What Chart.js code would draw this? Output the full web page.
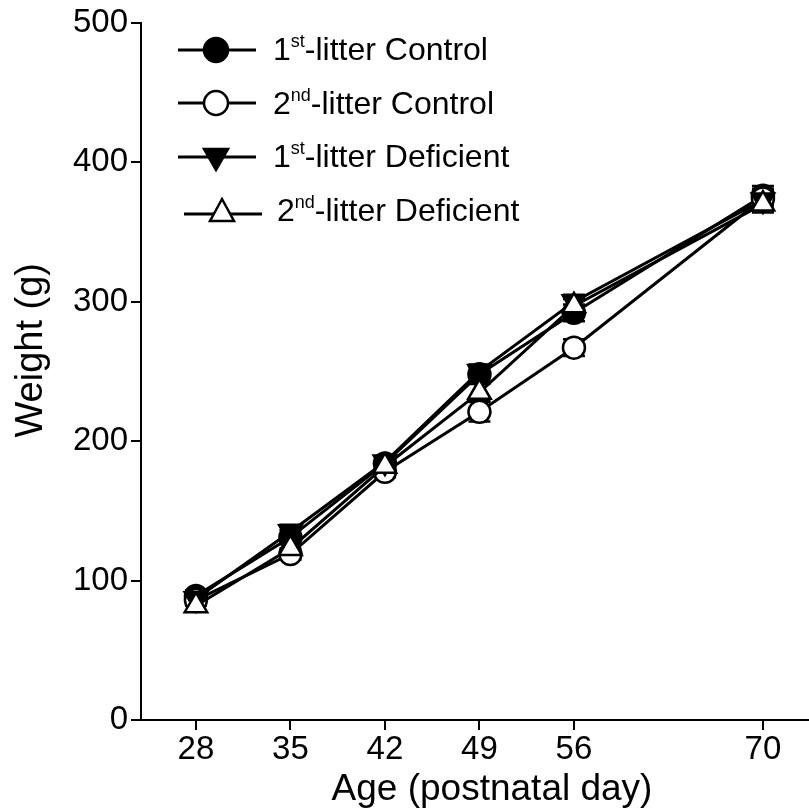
<!DOCTYPE html>
<html>
<head>
<meta charset="utf-8">
<script src="https://cdn.jsdelivr.net/npm/chart.js@4.4.0/dist/chart.umd.min.js"></script>
<style>
  html, body { margin: 0; padding: 0; background: #fff; overflow: hidden; }
  #wrap { position: relative; width: 809px; height: 812px; overflow: hidden; }
  #chart { position: absolute; left: 0; top: 0; }
  #legend { position: absolute; left: 176px; top: 23px; font-family: "Liberation Sans", Arial, sans-serif; font-size: 32px; color: #000; }
  .row { display: flex; align-items: center; height: 53.5px; }
  .row svg { margin-right: 15px; }
  .row sup { font-size: 18px; vertical-align: 13px; line-height: 0; }
  .row.last { margin-left: 6px; }
  .row.last svg { margin-right: 13px; }
</style>
</head>
<body>
<div id="wrap">
  <canvas id="chart" width="843" height="812"></canvas>
  <div id="legend"></div>
</div>
<script>
// Weight curves by litter and diet
const days = [28, 35, 42, 49, 56, 70];
const xTicks = [28, 35, 42, 49, 56, 70];
const yTicks = [0, 100, 200, 300, 400, 500];

const ctrl1 = [89, 131, 184, 248, 292, 376];
const ctrl2 = [86, 119, 178, 221, 267, 374];
const def1 = [87, 135, 185, 250, 300, 373];
const def2 = [82, 123, 182, 235, 297, 370];

const ctrl1Err = [4, 5, 4, 5, 6, 7];
const ctrl2Err = [4, 4, 4, 7, 6, 7];
const def1Err = [4, 5, 4, 5, 5, 6];
const def2Err = [4, 5, 4, 6, 5, 6];

const seriesNames = [
    ['1', 'st', '-litter Control'],
    ['2', 'nd', '-litter Control'],
    ['1', 'st', '-litter Deficient'],
    ['2', 'nd', '-litter Deficient']
];

function points(vals) {
    return days.map((d, i) => ({ x: d, y: vals[i] }));
}

const errorBars = {
    id: 'errorBars',
    beforeDatasetsDraw(chart) {
        const ctx = chart.ctx;
        const xs = chart.scales.x, ys = chart.scales.y;
        ctx.save();
        ctx.strokeStyle = '#000';
        ctx.lineWidth = 2.5;
        chart.data.datasets.forEach(ds => {
            ds.data.forEach((p, i) => {
                const e = ds.errors[i];
                const px = xs.getPixelForValue(p.x);
                const top = ys.getPixelForValue(p.y + e);
                const bot = ys.getPixelForValue(p.y - e);
                ctx.beginPath();
                ctx.moveTo(px, top); ctx.lineTo(px, bot);
                ctx.moveTo(px - 11, top); ctx.lineTo(px + 11, top);
                ctx.moveTo(px - 11, bot); ctx.lineTo(px + 11, bot);
                ctx.stroke();
            });
        });
        ctx.restore();
    }
};

const family = '"Liberation Sans", Arial, sans-serif';
const tickFont = { family: family, size: 33 };

new Chart(document.getElementById('chart'), {
    type: 'line',
    data: {
        datasets: [
            { label: 'ctrl1', data: points(ctrl1), errors: ctrl1Err, pointStyle: 'circle', pointRadius: 11,
              pointBackgroundColor: '#000', order: 3 },
            { label: 'ctrl2', data: points(ctrl2), errors: ctrl2Err, pointStyle: 'circle', pointRadius: 11,
              pointBackgroundColor: '#fff', order: 2 },
            { label: 'def1', data: points(def1), errors: def1Err, pointStyle: 'triangle', pointRadius: 13,
              pointRotation: 180, pointBackgroundColor: '#000', order: 1 },
            { label: 'def2', data: points(def2), errors: def2Err, pointStyle: 'triangle', pointRadius: 13,
              pointBackgroundColor: '#fff', order: 0 }
        ].map(ds => Object.assign(ds, {
            borderColor: '#000', borderWidth: 3, pointBorderColor: '#000', pointBorderWidth: 2.5,
            pointHoverRadius: ds.pointRadius, tension: 0
        }))
    },
    options: {
        responsive: false,
        animation: false,
        layout: { autoPadding: false, padding: { top: 22, right: 0, left: 0, bottom: 0 } },
        plugins: { legend: { display: false }, tooltip: { enabled: false } },
        scales: {
            x: {
                type: 'linear', min: 23.93, max: 75.93,
                afterBuildTicks: s => { s.ticks = xTicks.map(v => ({ value: v })); },
                afterFit: s => { s.height = 92; s.paddingLeft = 0; s.paddingRight = 0; },
                grid: { display: true, drawOnChartArea: false, drawTicks: true, tickLength: 10, color: '#000', lineWidth: 2 },
                border: { display: true, color: '#000', width: 2 },
                ticks: { color: '#000', font: tickFont, padding: 0, maxRotation: 0 },
                title: { display: true, text: 'Age (postnatal day)', color: '#000',
                         font: { family: family, size: 37 }, padding: { top: 0, bottom: 0 } }
            },
            y: {
                min: 0, max: 500,
                afterBuildTicks: s => { s.ticks = yTicks.map(v => ({ value: v })); },
                afterFit: s => { s.width = 141; },
                grid: { display: true, drawOnChartArea: false, drawTicks: true, tickLength: 10, color: '#000', lineWidth: 2 },
                border: { display: true, color: '#000', width: 2 },
                ticks: { color: '#000', font: tickFont, padding: 3 },
                title: { display: true, text: '\u00a0\u00a0\u00a0\u00a0Weight (g)', color: '#000',
                         font: { family: family, size: 38 }, padding: { top: 9, bottom: 0 } }
            }
        }
    },
    plugins: [errorBars]
});

// HTML legend with superscripts and marker symbols
const markers = [
    '<circle cx="40" cy="15" r="12" fill="#000" stroke="#000" stroke-width="2.5"/>',
    '<circle cx="40" cy="15" r="12" fill="#fff" stroke="#000" stroke-width="2.5"/>',
    '<polygon points="28,7 52,7 40,28" fill="#000" stroke="#000" stroke-width="2.5"/>',
    '<polygon points="28,26 52,26 40,4" fill="#fff" stroke="#000" stroke-width="2.5"/>'
];
const legend = document.getElementById('legend');
seriesNames.forEach((n, i) => {
    const row = document.createElement('div');
    row.className = i === 3 ? 'row last' : 'row';
    const ly = i === 3 ? 19 : 15;
    row.innerHTML = '<svg width="82" height="30"><line x1="2" y1="' + ly + '" x2="80" y2="' + ly +
        '" stroke="#000" stroke-width="3"/>' + markers[i] + '</svg>' +
        '<span>' + n[0] + '<sup>' + n[1] + '</sup>' + n[2] + '</span>';
    legend.appendChild(row);
});
</script>
</body>
</html>
